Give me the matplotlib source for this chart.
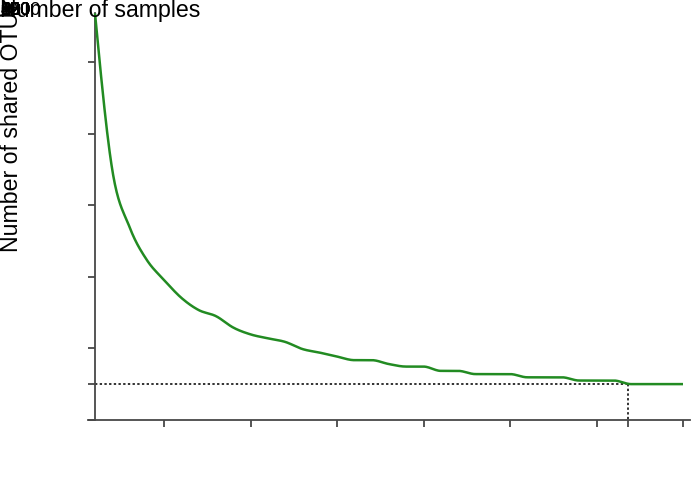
import numpy as np
import matplotlib
matplotlib.use("Agg")
import matplotlib.pyplot as plt

plt.rcParams['font.family'] = ['Liberation Sans', 'DejaVu Sans']

# ---- data ----
samples = list(range(1, 36))
shared_otus = [1136, 698, 538, 446, 390, 340, 306, 289, 257, 238,
               227, 217, 197, 187, 176, 166, 166, 155, 148, 148,
               136, 136, 127, 127, 127, 118, 118, 118, 109, 109,
               109, 99, 99, 99, 99]
core_x = 31.8
core_y = 99
y_ticks = [0, 200, 400, 600, 800, 1000]
x_ticks = [5, 10, 15, 20, 25, 30, 35]
x_label = "Number of samples"
y_label = "Number of shared OTUs"


def monotone_curve(x, y, n=20):
    x = np.asarray(x, float)
    y = np.asarray(y, float)
    h = np.diff(x)
    s = np.diff(y) / h
    t = np.zeros_like(y)
    for i in range(1, len(x) - 1):
        s0, s1 = s[i - 1], s[i]
        p = (s0 * h[i] + s1 * h[i - 1]) / (h[i - 1] + h[i])
        t[i] = (np.sign(s0) + np.sign(s1)) * min(abs(s0), abs(s1), 0.5 * abs(p))
    t[0] = (3 * s[0] - t[1]) / 2
    t[-1] = (3 * s[-1] - t[-2]) / 2
    xs, ys = [], []
    for i in range(len(x) - 1):
        u = np.linspace(0, 1, n, endpoint=False)
        dx = h[i]
        h00 = 2 * u**3 - 3 * u**2 + 1
        h10 = u**3 - 2 * u**2 + u
        h01 = -2 * u**3 + 3 * u**2
        h11 = u**3 - u**2
        xs.append(x[i] + u * dx)
        ys.append(h00 * y[i] + h10 * dx * t[i] + h01 * y[i + 1] + h11 * dx * t[i + 1])
    xs.append([x[-1]])
    ys.append([y[-1]])
    return np.concatenate(xs), np.concatenate(ys)


W, H = 699, 493
fig = plt.figure(figsize=(W / 100, H / 100), dpi=100)

px_per_x = (683 - 95) / (35 - 1)
x_lo = 1 - (95 - 88) / px_per_x
x_hi = 35 + (690 - 683) / px_per_x
px_per_y = 71.5 / 200
y_top = (419.5 - 12) / px_per_y

ax = fig.add_axes([88 / W, 1 - 419.5 / H, (690 - 88) / W, (419.5 - 12) / H])
ax.set_xlim(x_lo, x_hi)
ax.set_ylim(0, y_top)

axis_color = '#484848'
for side in ['top', 'right']:
    ax.spines[side].set_visible(False)
ax.spines['left'].set_position(('data', 1))
ax.spines['left'].set_bounds(0, max(shared_otus))
for side in ['left', 'bottom']:
    ax.spines[side].set_color(axis_color)
    ax.spines[side].set_linewidth(1.3)

ax.set_xticks(x_ticks[:-1] + [core_x, x_ticks[-1]])
ax.set_yticks(y_ticks + [core_y])
ax.tick_params(axis='both', direction='out', length=5.0, width=1.3,
               color=axis_color, labelleft=False, labelbottom=False)

cx, cy = monotone_curve(samples, shared_otus)
ax.plot(cx, cy, color='#228b22', lw=1.8, solid_capstyle='butt', zorder=3)

ax.plot([1, core_x], [core_y, core_y], color='#222222', lw=1.3,
        linestyle=(0, (1.3, 1.3)), zorder=2)
ax.plot([core_x, core_x], [core_y, 0], color='#222222', lw=1.3,
        linestyle=(0, (1.3, 1.3)), zorder=2)

# collapsed texts at the top-left corner, as in the reference
fig.text(0 / W, 1 - 17 / H, x_label, fontsize=16.7, ha='left', va='baseline')
fig.text(18.5 / W, 1 - 0 / H, y_label, fontsize=16.7, rotation=90,
         rotation_mode='anchor', ha='right', va='baseline')
for lab in [str(v) for v in y_ticks] + [str(core_y)] + [str(v) for v in x_ticks] + ["32"]:
    fig.text(0.5 / W, 1 - 15 / H, lab, fontsize=13, ha='left', va='baseline')

fig.savefig('out.png', dpi=100)
